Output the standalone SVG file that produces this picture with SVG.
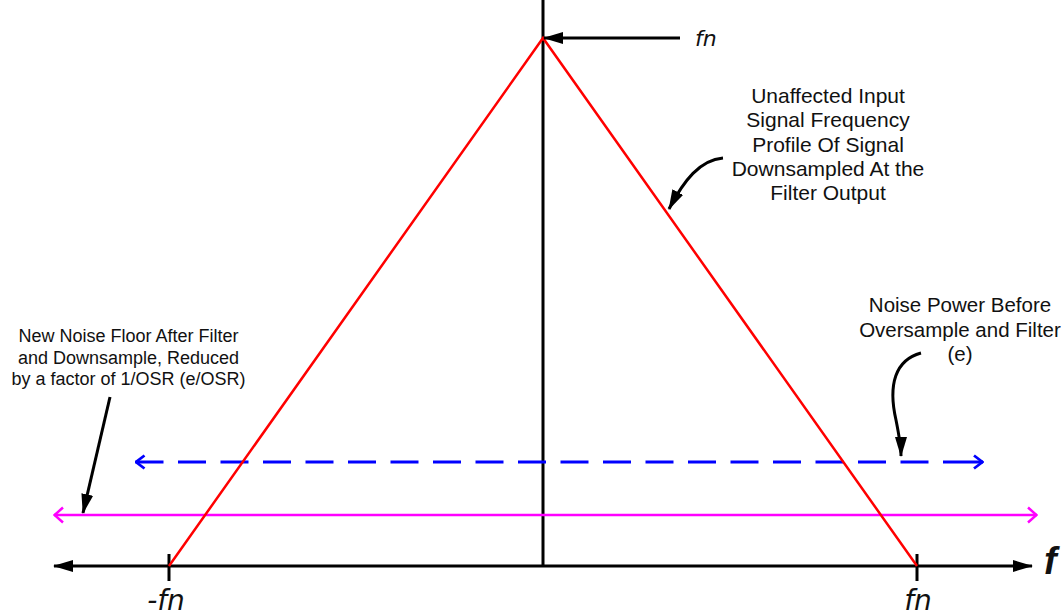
<svg xmlns="http://www.w3.org/2000/svg" width="1064" height="615" viewBox="0 0 1064 615">
<style>
.lbl{font-family:"Liberation Sans",Arial,sans-serif;fill:#111;text-anchor:middle}
.it{font-family:"DejaVu Sans","Open Sans",sans-serif;font-style:italic;fill:#111}
</style>
<defs>
<marker id="blkL" viewBox="0 0 20 12" refX="19" refY="6" markerWidth="20" markerHeight="12" markerUnits="userSpaceOnUse" orient="auto-start-reverse"><path d="M0,0 L20,6 L0,12 Z" fill="#000"/></marker>
<marker id="mag" viewBox="0 0 12 18" refX="11" refY="9" markerWidth="12" markerHeight="18" markerUnits="userSpaceOnUse" orient="auto-start-reverse"><path d="M2,1.5 L10.5,9 L2,16.5" fill="none" stroke="#f0f" stroke-width="2.5"/></marker>
<marker id="blu" viewBox="0 0 12 16" refX="11" refY="8" markerWidth="12" markerHeight="16" markerUnits="userSpaceOnUse" orient="auto-start-reverse"><path d="M2,1.5 L10.5,8 L2,14.5" fill="none" stroke="#00f" stroke-width="2.8"/></marker>
</defs>
<g id="connectors">
<line x1="543" y1="0" x2="543" y2="566" stroke="#000" stroke-width="3"/>
<line x1="54" y1="566" x2="1032" y2="566" stroke="#000" stroke-width="3" marker-start="url(#blkL)" marker-end="url(#blkL)"/>
<line x1="169" y1="554" x2="169" y2="581" stroke="#000" stroke-width="3"/>
<line x1="917" y1="554" x2="917" y2="581" stroke="#000" stroke-width="3"/>
<line x1="54" y1="515" x2="1037" y2="515" stroke="#f0f" stroke-width="2.5" marker-start="url(#mag)" marker-end="url(#mag)"/>
<line x1="135.5" y1="462" x2="943" y2="462" stroke="#00f" stroke-width="2.8" stroke-dasharray="28,14.5" marker-start="url(#blu)"/>
<line x1="943" y1="462" x2="983" y2="462" stroke="#00f" stroke-width="2.8" marker-end="url(#blu)"/>
<polyline points="169,566 543,38 917,566" fill="none" stroke="#f00" stroke-width="2.5"/>
<line x1="680" y1="38" x2="544" y2="38" stroke="#000" stroke-width="3" marker-end="url(#blkL)"/>
<path d="M723,158 C700,160 684,180 669,209" fill="none" stroke="#000" stroke-width="3" marker-end="url(#blkL)"/>
<path d="M921,353 C895,360 888,385 896,420 C899,435 901,445 901,456" fill="none" stroke="#000" stroke-width="3" marker-end="url(#blkL)"/>
<line x1="110" y1="397" x2="83" y2="513" stroke="#000" stroke-width="3" marker-end="url(#blkL)"/>
</g>
<g id="label-fn-top"><text class="it" x="695" y="46" font-size="22">fn</text></g>
<g id="label-f"><text x="1044" y="574" font-family="Liberation Sans,Arial,sans-serif" font-style="italic" font-weight="bold" font-size="38" fill="#111">f</text></g>
<g id="label-neg-fn"><text class="it" x="166" y="610" font-size="28" text-anchor="middle">-fn</text></g>
<g id="label-pos-fn"><text class="it" x="918" y="610" font-size="28" text-anchor="middle">fn</text></g>
<g id="note-signal">
<text class="lbl" font-size="21"><tspan x="828" y="103">Unaffected Input</tspan><tspan x="828" y="127">Signal Frequency</tspan><tspan x="828" y="152">Profile Of Signal</tspan><tspan x="828" y="176">Downsampled At the</tspan><tspan x="828" y="200">Filter Output</tspan></text>
</g>
<g id="note-noise-before">
<text class="lbl" font-size="20.5"><tspan x="960" y="312">Noise Power Before</tspan><tspan x="960" y="337">Oversample and Filter</tspan><tspan x="960" y="361">(e)</tspan></text>
</g>
<g id="note-noise-after">
<text class="lbl" font-size="18"><tspan x="128.5" y="342">New Noise Floor After Filter</tspan><tspan x="128.5" y="364">and Downsample, Reduced</tspan><tspan x="128.5" y="385">by a factor of 1/OSR (e/OSR)</tspan></text>
</g>
</svg>
